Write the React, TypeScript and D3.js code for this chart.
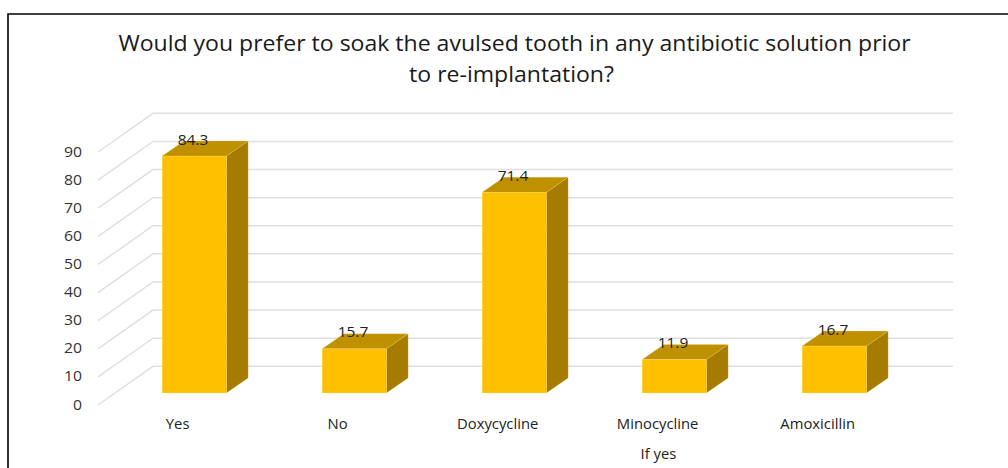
import React from "react";
import * as d3 from "d3";

const categories = ["Yes", "No", "Doxycycline", "Minocycline", "Amoxicillin"];
const values = [84.3, 15.7, 71.4, 11.9, 16.7];
const valueLabels = ["84.3", "15.7", "71.4", "11.9", "16.7"];
const yTicks = [0, 10, 20, 30, 40, 50, 60, 70, 80, 90];
const titleLines = [
  "Would you prefer to soak the avulsed tooth in any antibiotic solution prior",
  "to re-implantation?",
];
const titleCentres = [514.5, 511.5];
const axisTitle = "If yes";

const FONT = "'Open Sans', sans-serif";
const BAR_WIDTH = 64.3;
const DEPTH_X = 21.7;
const DEPTH_Y = 15;

// Value scale on the back wall of the 3D plot; the floor front sits lower and to the left.
const yBack = d3.scaleLinear().domain([0, 90]).range([366.3, 113.3]);
const x = d3.scaleBand<string>().domain(categories).range([114.3, 914.3]);
const FLOOR_DX = -55;
const FLOOR_DY = 38.7;
const BAR_BASE = 393;

// All text in this chart is set slightly extended.
function Wide(props: {
  x: number;
  y: number;
  sx: number;
  size: number;
  anchor: string;
  fill: string;
  children: React.ReactNode;
}) {
  return (
    <text
      transform={`translate(${props.x},${props.y}) scale(${props.sx},1)`}
      textAnchor={props.anchor}
      fontSize={props.size}
      fill={props.fill}
    >
      {props.children}
    </text>
  );
}

export default function App() {
  const unit = yBack(0) - yBack(1);
  return (
    <svg
      width={1008}
      height={468}
      style={{ position: "absolute", left: 0, top: 0, background: "#fff" }}
      fontFamily={FONT}
    >
      <path d="M8 468V14H1008" fill="none" stroke="#000" strokeWidth={1.6} />

      {titleLines.map((t, i) => (
        <Wide key={t} x={titleCentres[i]} y={51 + i * 31} sx={1.048} size={22} anchor="middle" fill="#1a1a1a">
          {t}
        </Wide>
      ))}

      {yTicks.map((t) => {
        const y = yBack(t);
        return (
          <g key={t}>
            <path
              d={d3.line()([
                [153 + FLOOR_DX, y + FLOOR_DY],
                [153, y],
                [953, y],
              ]) ?? ""}
              fill="none"
              stroke="#e0e0e0"
              strokeWidth={1.5}
            />
            <Wide x={82} y={y + FLOOR_DY + 4.5} sx={1.09} size={14.5} anchor="end" fill="#333">
              {t}
            </Wide>
          </g>
        );
      })}

      {categories.map((c, i) => {
        const left = (x(c) ?? 0) + (x.bandwidth() - BAR_WIDTH) / 2;
        const right = left + BAR_WIDTH;
        const h = values[i] * unit;
        const top = BAR_BASE - h;
        const topFace = d3.line()([
          [left, top],
          [left + DEPTH_X, top - DEPTH_Y],
          [right + DEPTH_X, top - DEPTH_Y],
          [right, top],
        ]);
        const sideFace = d3.line()([
          [right, top],
          [right + DEPTH_X, top - DEPTH_Y],
          [right + DEPTH_X, BAR_BASE - DEPTH_Y],
          [right, BAR_BASE],
        ]);
        return (
          <g key={c}>
            <g stroke="#ffe699" strokeWidth={0.5} strokeOpacity={0.35}>
              <path d={(sideFace ?? "") + "Z"} fill="#a67c00" />
              <path d={(topFace ?? "") + "Z"} fill="#bf9000" />
              <rect x={left} y={top} width={BAR_WIDTH} height={h} fill="#ffc000" />
            </g>
            <Wide x={left + 30.8} y={top - 11.5} sx={1.07} size={14.5} anchor="middle" fill="#222">
              {valueLabels[i]}
            </Wide>
            <Wide x={left + 15.5} y={429} sx={1.06} size={14} anchor="middle" fill="#222">
              {c}
            </Wide>
          </g>
        );
      })}

      <Wide x={658.5} y={459} sx={1.06} size={14} anchor="middle" fill="#222">
        {axisTitle}
      </Wide>
    </svg>
  );
}
